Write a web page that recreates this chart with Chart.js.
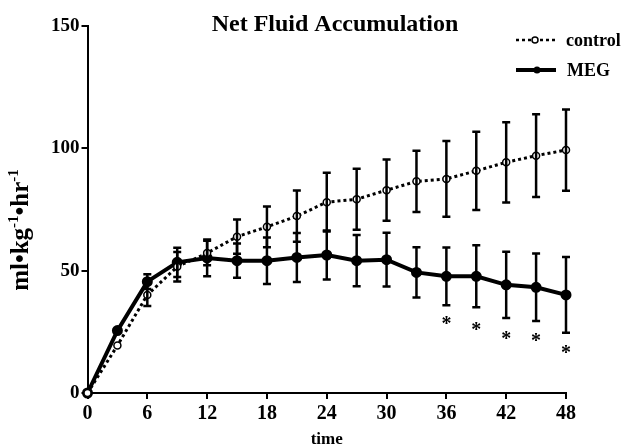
<!DOCTYPE html>
<html>
<head>
<meta charset="utf-8">
<script src="https://cdn.jsdelivr.net/npm/chart.js@4.4.0/dist/chart.umd.min.js"></script>
<style>
  html, body { margin: 0; padding: 0; background: #fff; }
  #wrap { width: 623px; height: 448px; }
</style>
</head>
<body>
<div id="wrap"><canvas id="fluidChart" width="623" height="448"></canvas></div>
<script>
// hours
var times = [0, 3, 6, 9, 12, 15, 18, 21, 24, 27, 30, 33, 36, 39, 42, 45, 48];
var controlData = [0, 19.4, 40.1, 51.6, 57.2, 63.9, 67.9, 72.3, 78.0, 79.2, 82.9, 86.5, 87.5, 90.8, 94.3, 97.0, 99.3];
var controlErr  = [0, 0, 4.5, 6, 5, 7, 8.3, 10.5, 12, 12.5, 12.5, 12.5, 15.5, 16, 16.4, 16.9, 16.6];
var megData = [0, 25.5, 45.5, 53.4, 55.2, 54.1, 54.1, 55.4, 56.4, 54.1, 54.5, 49.3, 47.7, 47.7, 44.2, 43.2, 40.1];
var megErr  = [0, 0, 3, 6, 7.5, 7, 9.5, 10, 10, 10.5, 11, 10.3, 11.8, 12.7, 13.5, 13.8, 15.5];
var starTimes = [36, 39, 42, 45, 48];
var starValues = [29.3, 26.9, 23.2, 22.4, 17.8];
var xTicks = [0, 6, 12, 18, 24, 30, 36, 42, 48];
var yTicks = [0, 50, 100, 150];

var serif = '"Liberation Serif", "Times New Roman", serif';

function toPoints(ys) {
    return times.map(function (t, i) { return { x: t, y: ys[i] }; });
}

// vertical error bars with caps
var errorBars = {
    id: 'errorBars',
    afterDatasetsDraw: function (chart) {
        var ctx = chart.ctx, xs = chart.scales.x, ys = chart.scales.y;
        var errs = [controlErr, megErr];
        var vals = [controlData, megData];
        ctx.save();
        ctx.strokeStyle = '#000';
        ctx.lineWidth = 2.5;
        for (var d = 0; d < 2; d++) {
            for (var i = 0; i < times.length; i++) {
                var e = errs[d][i];
                if (!e) continue;
                var px = xs.getPixelForValue(times[i]);
                var top = ys.getPixelForValue(vals[d][i] + e);
                var bot = ys.getPixelForValue(vals[d][i] - e);
                ctx.beginPath();
                ctx.moveTo(px, top); ctx.lineTo(px, bot);
                ctx.moveTo(px - 4, top); ctx.lineTo(px + 4, top);
                ctx.moveTo(px - 4, bot); ctx.lineTo(px + 4, bot);
                ctx.stroke();
            }
        }
        // significance stars
        ctx.fillStyle = '#000';
        ctx.font = 'bold 20px ' + serif;
        ctx.textAlign = 'center';
        ctx.textBaseline = 'middle';
        for (var k = 0; k < starTimes.length; k++) {
            ctx.fillText('*', xs.getPixelForValue(starTimes[k]), ys.getPixelForValue(starValues[k]) + 4);
        }
        ctx.restore();
    }
};

// title, legend and y label drawn by hand
var extras = {
    id: 'extras',
    afterDraw: function (chart) {
        var ctx = chart.ctx;
        ctx.save();
        ctx.fillStyle = '#000';
        ctx.textBaseline = 'alphabetic';

        ctx.font = 'bold 24px ' + serif;
        ctx.textAlign = 'center';
        ctx.fillText('Net Fluid Accumulation', 335, 31);

        // legend
        ctx.textAlign = 'left';
        ctx.font = 'bold 18px ' + serif;
        ctx.fillText('control', 566, 46);
        ctx.fillText('MEG', 567, 76);
        ctx.strokeStyle = '#000';
        ctx.lineWidth = 2.5;
        ctx.setLineDash([3, 3]);
        ctx.beginPath(); ctx.moveTo(516, 40); ctx.lineTo(555, 40); ctx.stroke();
        ctx.setLineDash([]);
        ctx.lineWidth = 1.5;
        ctx.fillStyle = '#fff';
        ctx.beginPath(); ctx.arc(535, 40, 3, 0, Math.PI * 2); ctx.fill(); ctx.stroke();
        ctx.fillStyle = '#000';
        ctx.lineWidth = 4;
        ctx.beginPath(); ctx.moveTo(516, 70); ctx.lineTo(556, 70); ctx.stroke();
        ctx.beginPath(); ctx.arc(537, 70, 3.5, 0, Math.PI * 2); ctx.fill();

        // y axis label with superscripts
        ctx.translate(28, 230);
        ctx.rotate(-Math.PI / 2);
        var parts = [['ml\u2022kg', 0], ['-1', 1], ['\u2022hr', 0], ['-1', 1]];
        var big = 'bold 25px ' + serif, small = 'bold 15px ' + serif;
        var w = 0;
        parts.forEach(function (p) { ctx.font = p[1] ? small : big; w += ctx.measureText(p[0]).width; });
        var cx = -w / 2;
        parts.forEach(function (p) {
            ctx.font = p[1] ? small : big;
            ctx.fillText(p[0], cx, p[1] ? -10 : 0);
            cx += ctx.measureText(p[0]).width;
        });
        ctx.restore();
    }
};

var ctx = document.getElementById('fluidChart').getContext('2d');
var fluidChart = new Chart(ctx, {
    type: 'line',
    data: {
        datasets: [
            {
                label: 'control',
                data: toPoints(controlData),
                borderColor: '#000',
                borderWidth: 3,
                borderDash: [3, 3],
                pointRadius: 3.5,
                pointBorderWidth: 1.5,
                pointBackgroundColor: '#fff',
                pointBorderColor: '#000',
                fill: false,
                clip: false
            },
            {
                label: 'MEG',
                data: toPoints(megData),
                borderColor: '#000',
                borderWidth: 4,
                pointRadius: 3.5,
                pointBackgroundColor: '#000',
                pointBorderColor: '#000',
                fill: false,
                clip: false
            }
        ]
    },
    options: {
        responsive: false,
        animation: false,
        layout: { padding: { left: 49, right: 57, top: 26, bottom: 0 } },
        plugins: {
            legend: { display: false },
            tooltip: { enabled: false }
        },
        scales: {
            x: {
                type: 'linear',
                min: 0, max: 48,
                afterBuildTicks: function (axis) { axis.ticks = xTicks.map(function (v) { return { value: v }; }); },
                border: { color: '#000', width: 2 },
                grid: { drawOnChartArea: false, color: '#000', lineWidth: 2, tickLength: 6 },
                ticks: { color: '#000', font: { family: serif, size: 20, weight: 'bold' }, padding: 3, maxRotation: 0 },
                title: { display: true, text: 'time', color: '#000', font: { family: serif, size: 17, weight: 'bold', lineHeight: 1 }, padding: { top: 2, bottom: 0 } }
            },
            y: {
                min: 0, max: 150,
                afterBuildTicks: function (axis) { axis.ticks = yTicks.map(function (v) { return { value: v }; }); },
                border: { color: '#000', width: 2 },
                grid: { drawOnChartArea: false, color: '#000', lineWidth: 2, tickLength: 6 },
                ticks: { color: '#000', font: { family: serif, size: 19, weight: 'bold' }, padding: 2 }
            }
        }
    },
    plugins: [errorBars, extras]
});
</script>
</body>
</html>
